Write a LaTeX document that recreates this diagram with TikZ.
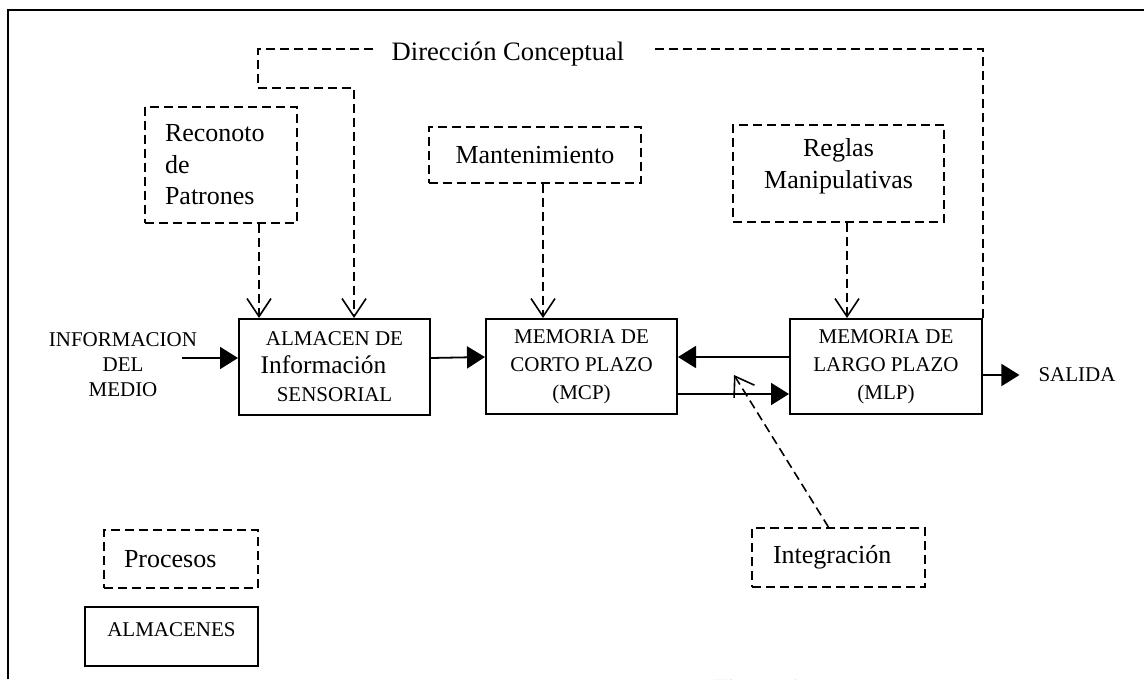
\documentclass[tikz,border=0pt]{standalone}
\usepackage{fontspec}
\setmainfont{Liberation Serif}
\usetikzlibrary{arrows.meta}

\begin{document}
\begin{tikzpicture}[x=0.5pt, y=-0.5pt,
  proceso/.style={draw, line width=0.8pt, dash pattern=on 4.5pt off 2.5pt, font=\fontsize{13}{15.75}\selectfont},
  almacen/.style={draw, line width=1pt, align=center, font=\fontsize{10.5}{14}\selectfont},
  linea/.style={line width=0.8pt, dash pattern=on 4.5pt off 2.5pt},
  flechap/.style={linea, -{Straight Barb[length=9pt,width=12pt]}},
  flecha/.style={line width=0.9pt, -{Triangle[length=9pt,width=11pt]}}]
  \useasboundingbox (0,0) rectangle (1144,679);
  \draw[line width=1pt] (8,679) -- (8,10) -- (1144,10);

  % Procesos
  \node[proceso, minimum width=76pt, minimum height=58pt, align=left, text width=56pt, inner xsep=10pt] (reconoto) at (221,165) {Reconoto\\de\\Patrones};
  \node[proceso, minimum width=106pt, minimum height=28pt] (mant) at (535,155) {Mantenimiento};
  \node[proceso, minimum width=105.5pt, minimum height=48.5pt, align=center, text depth=10pt] (reglas) at (838.5,173.5) {Reglas\\Manipulativas};
  \node[proceso, minimum width=86.5pt, minimum height=29.5pt, align=left, text width=65.5pt, inner xsep=10.5pt] (integ) at (838.5,557.5) {Integración};
  \node[proceso, minimum width=77pt, minimum height=29pt, align=left, text width=57pt, inner xsep=10pt] (procesos) at (181,559) {Procesos};
  \node[font=\fontsize{13.3}{16}\selectfont] (dir) at (508,54) {Dirección Conceptual};

  % Almacenes
  \node[almacen, minimum width=95.5pt, minimum height=48pt] (sensorial) at (334.5,367) {ALMACEN DE\\{\fontsize{12.7}{14}\selectfont Información\rule{11pt}{0pt}}\\SENSORIAL};
  \node[almacen, minimum width=95.5pt, minimum height=47.5pt] (mcp) at (581.5,366.5) {MEMORIA DE\\CORTO PLAZO\\(MCP)};
  \node[almacen, minimum width=96pt, minimum height=47.5pt] (mlp) at (886,366.5) {MEMORIA DE\\LARGO PLAZO\\(MLP)};
  \node[almacen, minimum width=86.5pt, minimum height=29.5pt, text depth=6.5pt] (almacenes) at (171.5,636.5) {ALMACENES};
  \node[align=center, font=\fontsize{10.5}{12.5}\selectfont] (info) at (123,365) {INFORMACION\\DEL\\MEDIO};
  \node[font=\fontsize{10.5}{12.5}\selectfont] (salida) at (1077,375) {SALIDA};
  \node[font=\fontsize{13}{16}\selectfont, anchor=base west, inner sep=0pt] (figura) at (713,697) {Figura 1};

  \coordinate (dl) at (258,49);
  \coordinate (dr) at (354,88);
  \coordinate (s1) at ([xshift=-37.75pt]sensorial.north);
  \coordinate (c1) at ([xshift=-19.25pt]mcp.north);
  \coordinate (l1) at ([xshift=-19.5pt]mlp.north);
  \coordinate (infoout) at (182,358);
  \coordinate (intpt) at (734,375);

  \draw[flechap] ([xshift=-6pt,yshift=2.5pt]dir.west) -- (dl) -- (dl |- dr) -- (dr) -- (dr |- sensorial.north);
  \draw[linea] ([xshift=12pt,yshift=2.5pt]dir.east) -| (mlp.north east);
  \draw[flechap] (reconoto.south -| s1) -- (s1);
  \draw[flechap] (mant.south -| c1) -- (c1);
  \draw[flechap] (reglas.south -| l1) -- (l1);
  \draw[flechap] ([xshift=-5pt]integ.north) -- (intpt);

  \draw[flecha] (infoout) -- (infoout -| sensorial.west);
  \draw[flecha] ([yshift=4.5pt]sensorial.east) -- ([yshift=4.75pt]mcp.west);
  \draw[flecha] ([yshift=4.75pt]mlp.west) -- ([yshift=4.75pt]mcp.east);
  \draw[flecha] ([yshift=-13.75pt]mcp.east) -- ([yshift=-13.75pt]mlp.west);
  \draw[flecha] (mlp.east |- salida) -- ([xshift=-6pt]salida.west);
\end{tikzpicture}
\end{document}
